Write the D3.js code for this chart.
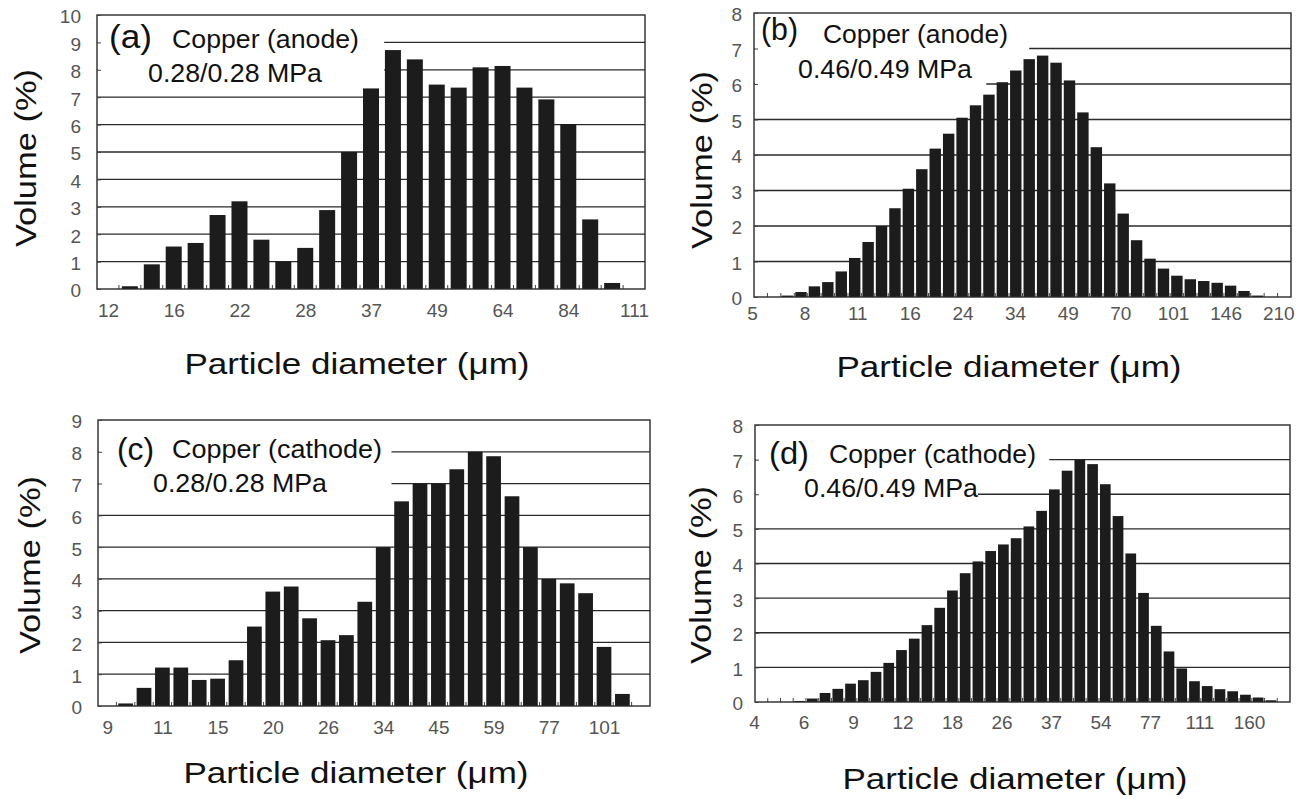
<!DOCTYPE html>
<html>
<head>
<meta charset="utf-8">
<script src="https://cdn.jsdelivr.net/npm/d3@7"></script>
<style>
  body { margin: 0; background: #fff; }
  text { font-family: "Liberation Sans", Arial, sans-serif; }
</style>
</head>
<body>
<script>
// particle size distributions, volume % per size bin
var volumeA = [0.1, 0.9, 1.55, 1.68, 2.7, 3.2, 1.8, 1.0, 1.5, 2.88, 5.0, 7.32, 8.72, 8.38, 7.46, 7.35, 8.09, 8.14, 7.35, 6.92, 6.02, 2.54, 0.22];
var volumeB = [0.04, 0.14, 0.3, 0.42, 0.72, 1.1, 1.55, 2.0, 2.5, 3.05, 3.6, 4.18, 4.6, 5.05, 5.4, 5.7, 6.05, 6.38, 6.7, 6.8, 6.6, 6.1, 5.2, 4.22, 3.2, 2.35, 1.6, 1.08, 0.8, 0.6, 0.5, 0.45, 0.4, 0.32, 0.17, 0.04];
var volumeC = [0.08, 0.57, 1.21, 1.21, 0.82, 0.86, 1.44, 2.5, 3.6, 3.76, 2.76, 2.07, 2.23, 3.28, 5.0, 6.44, 7.0, 7.0, 7.45, 8.0, 7.86, 6.6, 5.0, 4.0, 3.86, 3.55, 1.86, 0.38];
var volumeD = [0.03, 0.1, 0.26, 0.38, 0.53, 0.63, 0.87, 1.13, 1.5, 1.83, 2.22, 2.72, 3.22, 3.72, 4.06, 4.36, 4.55, 4.73, 5.07, 5.52, 6.14, 6.68, 7.0, 6.87, 6.29, 5.37, 4.29, 3.15, 2.2, 1.46, 0.97, 0.6, 0.46, 0.37, 0.31, 0.21, 0.13, 0.05];

// diameter tick labels (um)
var ticksA = [12, 16, 22, 28, 37, 49, 64, 84, 111];
var ticksB = [5, 8, 11, 16, 24, 34, 49, 70, 101, 146, 210];
var ticksC = [9, 11, 15, 20, 26, 34, 45, 59, 77, 101];
var ticksD = [4, 6, 9, 12, 18, 26, 37, 54, 77, 111, 160];

var titleA = ["(a)", "Copper (anode)", "0.28/0.28 MPa"];
var titleB = ["(b)", "Copper (anode)", "0.46/0.49 MPa"];
var titleC = ["(c)", "Copper (cathode)", "0.28/0.28 MPa"];
var titleD = ["(d)", "Copper (cathode)", "0.46/0.49 MPa"];

var width = 1306, height = 799;
var ink = "#1c1c1c";

var svg = d3.select("body").append("svg")
    .attr("width", width)
    .attr("height", height);
svg.append("rect").attr("width", width).attr("height", height).attr("fill", "#fff");

// layout of each panel (pixels), bins and the white box behind the annotation
var panels = [
    {values: volumeA, ticks: ticksA, title: titleA, ymax: 10, nBins: 25, firstBin: 1, pad: 0.27,
        x0: 97, x1: 645, top: 15, bot: 289, labelBins: [0.5, 24.5], yPad: 16, xPad: 15,
        boxes: [{bin: 13.1, val: 7.4}],
        txt: [{x: 109, y: 48, w: 43, fs: 33}, {x: 172, y: 48, w: 187, fs: 25}, {x: 148, y: 82, w: 174, fs: 25}],
        xTitle: {x: 357, y: 374}, yTitle: {x: 36, y: 158}},
    {values: volumeB, ticks: ticksB, title: titleB, ymax: 8, nBins: 40, firstBin: 2, pad: 0.15,
        x0: 754, x1: 1291, top: 13, bot: 297, labelBins: [-0.15, 39.05], yPad: 12, xPad: 10,
        boxes: [{bin: 20.5, val: 6.85}, {bin: 17.3, val: 5.8}],
        txt: [{x: 761, y: 40, w: 37, fs: 32}, {x: 823, y: 43, w: 185, fs: 25}, {x: 798, y: 78, w: 174, fs: 25}],
        xTitle: {x: 1009, y: 377}, yTitle: {x: 712, y: 160}},
    {values: volumeC, ticks: ticksC, title: titleC, ymax: 9, nBins: 30, firstBin: 1, pad: 0.2,
        x0: 98, x1: 650, top: 420, bot: 706, labelBins: [0.5, 27.5], yPad: 16, xPad: 15,
        boxes: [{bin: 15.95, val: 6.6}],
        txt: [{x: 117, y: 460, w: 37, fs: 32}, {x: 172, y: 458, w: 210, fs: 25}, {x: 153, y: 492, w: 174, fs: 25}],
        xTitle: {x: 356, y: 783}, yTitle: {x: 40, y: 565}},
    {values: volumeD, ticks: ticksD, title: titleD, ymax: 8, nBins: 42, firstBin: 3, pad: 0.16,
        x0: 755, x1: 1290, top: 425, bot: 702, labelBins: [-0.08, 38.78], yPad: 12, xPad: 14,
        boxes: [{bin: 23.1, val: 6.4}, {bin: 17.5, val: 5.3}],
        txt: [{x: 769, y: 464, w: 40, fs: 32}, {x: 829, y: 463, w: 207, fs: 25}, {x: 804, y: 497, w: 174, fs: 25}],
        xTitle: {x: 1015, y: 789}, yTitle: {x: 711, y: 575}}
];

panels.forEach(drawPanel);

function drawPanel(p) {
    var xScale = d3.scaleBand()
        .domain(d3.range(p.nBins))
        .range([p.x0, p.x1])
        .paddingInner(p.pad)
        .paddingOuter(p.pad / 2);
    var binScale = d3.scaleLinear().domain([0, p.nBins]).range([p.x0, p.x1]);
    var yScale = d3.scaleLinear().domain([0, p.ymax]).range([p.bot, p.top]);
    var g = svg.append("g");

    //horizontal grid
    g.append("g").selectAll("line")
        .data(d3.range(1, p.ymax))
        .enter().append("line")
        .attr("x1", p.x0).attr("x2", p.x1)
        .attr("y1", function (d) { return yScale(d); })
        .attr("y2", function (d) { return yScale(d); })
        .attr("stroke", "#2a2a2a")
        .attr("stroke-width", 1.3);

    //white box under the annotation hides the grid
    p.boxes.forEach(function (b) {
        g.append("rect")
            .attr("x", p.x0 + 1)
            .attr("y", p.top + 1)
            .attr("width", binScale(b.bin) - p.x0 - 1)
            .attr("height", yScale(b.val) - p.top - 1)
            .attr("fill", "#fff");
    });

    //small ticks at bin edges
    g.append("g").selectAll("line")
        .data(d3.range(1, p.nBins))
        .enter().append("line")
        .attr("x1", function (d) { return binScale(d); })
        .attr("x2", function (d) { return binScale(d); })
        .attr("y1", p.bot).attr("y2", p.bot - 4)
        .attr("stroke", "#444");

    //bars
    g.append("g").selectAll("rect")
        .data(p.values)
        .enter().append("rect")
        .attr("x", function (d, i) { return xScale(i + p.firstBin); })
        .attr("width", xScale.bandwidth())
        .attr("y", function (d) { return yScale(d); })
        .attr("height", function (d) { return yScale(0) - yScale(d); })
        .attr("fill", ink);

    //frame
    g.append("rect")
        .attr("x", p.x0).attr("y", p.top)
        .attr("width", p.x1 - p.x0).attr("height", p.bot - p.top)
        .attr("fill", "none")
        .attr("stroke", "#2a2a2a")
        .attr("stroke-width", 1.4);

    //y axis
    var yAxis = d3.axisLeft(yScale).ticks(p.ymax).tickFormat(d3.format("d"))
        .tickSizeInner(-4).tickSizeOuter(0).tickPadding(p.yPad);
    var ya = g.append("g").attr("transform", "translate(" + p.x0 + ",0)").call(yAxis);
    ya.select(".domain").remove();
    ya.selectAll("line").attr("stroke", "#444");
    ya.selectAll("text").attr("font-size", 19).attr("fill", "#555").attr("dy", "0.42em")
        .attr("font-family", "Liberation Sans, Arial, sans-serif");

    //x axis labels, evenly spaced
    var labelScale = d3.scalePoint()
        .domain(p.ticks)
        .range([binScale(p.labelBins[0]), binScale(p.labelBins[1])]);
    var xAxis = d3.axisBottom(labelScale).tickSize(0).tickPadding(p.xPad);
    var xa = g.append("g").attr("transform", "translate(0," + p.bot + ")").call(xAxis);
    xa.select(".domain").remove();
    xa.selectAll("text").attr("font-size", 19).attr("fill", "#555")
        .attr("font-family", "Liberation Sans, Arial, sans-serif");

    //annotation
    p.title.forEach(function (t, i) {
        var s = p.txt[i];
        g.append("text")
            .attr("x", s.x).attr("y", s.y)
            .attr("font-size", s.fs)
            .attr("fill", "#111")
            .attr("textLength", s.w)
            .attr("lengthAdjust", "spacingAndGlyphs")
            .text(t);
    });

    //axis titles
    g.append("text")
        .attr("x", p.xTitle.x).attr("y", p.xTitle.y)
        .attr("text-anchor", "middle")
        .attr("font-size", 30)
        .attr("fill", "#111")
        .attr("textLength", 345)
        .attr("lengthAdjust", "spacingAndGlyphs")
        .text("Particle diameter (\u03bcm)");
    g.append("text")
        .attr("transform", "translate(" + p.yTitle.x + "," + p.yTitle.y + ") rotate(-90)")
        .attr("text-anchor", "middle")
        .attr("font-size", 30)
        .attr("fill", "#111")
        .attr("textLength", 178)
        .attr("lengthAdjust", "spacingAndGlyphs")
        .text("Volume (%)");
}
</script>
</body>
</html>
